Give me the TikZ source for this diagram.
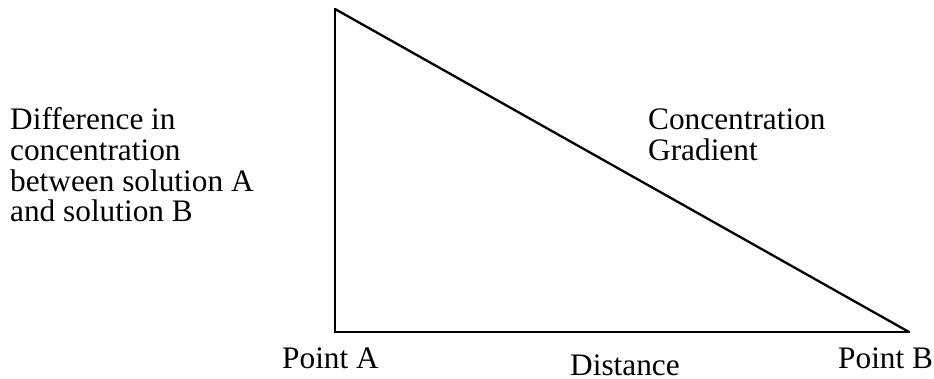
\documentclass[tikz,border=0pt]{standalone}
\usepackage{fontspec}
\setmainfont{Liberation Serif}
\begin{document}
\begin{tikzpicture}[x=1pt,y=-1pt,
  lbl/.style={inner sep=0pt,anchor=base west,align=left,font=\fontsize{31.3}{30.6}\selectfont},
  edge/.style={line width=2.5pt,line cap=rect}]
\useasboundingbox (0,0) rectangle (934,379);
\coordinate (top) at (335,9);
\coordinate (corner) at (335,332);
\coordinate (right) at (909,332);
\draw[edge] (top) -- (corner) -- (right);
\draw[line width=2.3pt] (top) -- (right);
\node[lbl] (ylab) at (10,221.8) {Difference in\\concentration\\between solution A\\and solution B};
\node[lbl] (grad) at (648,160.6) {Concentration\\Gradient};
\node[lbl] (pa) at (282,368) {Point A};
\node[lbl] (dist) at (570,375) {Distance};
\node[lbl] (pb) at (838,368) {Point B};
\end{tikzpicture}
\end{document}
